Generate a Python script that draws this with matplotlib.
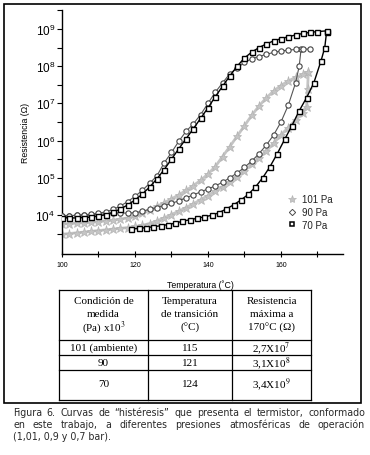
import matplotlib
matplotlib.use("Agg")
import matplotlib.pyplot as plt
import numpy as np
from matplotlib.lines import Line2D
from matplotlib.patches import Rectangle
from matplotlib.ticker import FixedLocator, FuncFormatter, NullFormatter

W, H = 370, 456

plt.rcParams["font.family"] = ["Liberation Sans", "DejaVu Sans"]
plt.rcParams["mathtext.fontset"] = "custom"
plt.rcParams["mathtext.rm"] = "Liberation Sans"
plt.rcParams["mathtext.it"] = "Liberation Sans:italic"

# --- curve readings: temperature (C) and log10 of resistance (ohm) ---
T_101_HEAT = [100, 102, 104, 106, 108, 110, 112, 114, 116, 118, 120, 122, 124, 126, 128,
              130, 132, 134, 136, 138, 140, 142, 144, 146, 148, 150, 152, 154, 156, 158,
              160, 162, 164, 166, 167, 167.3, 167.5]
LOGR_101_HEAT = [3.48, 3.50, 3.52, 3.54, 3.56, 3.58, 3.60, 3.62, 3.64, 3.66, 3.69, 3.72, 3.77,
                 3.84, 3.92, 4.01, 4.10, 4.20, 4.30, 4.41, 4.52, 4.64, 4.76, 4.89, 5.03, 5.19,
                 5.36, 5.54, 5.72, 5.93, 6.15, 6.35, 6.55, 6.75, 6.90, 7.40, 7.85]
T_101_COOL = [167.5, 166, 164, 162, 160, 158, 156, 154, 152, 150, 148, 146, 144, 142, 140,
              138, 136, 134, 132, 130, 128, 126, 124, 122, 120, 118, 116, 114, 112, 110,
              108, 106, 104, 102, 100]
LOGR_101_COOL = [7.85, 7.78, 7.70, 7.60, 7.48, 7.33, 7.15, 6.93, 6.68, 6.40, 6.12, 5.84, 5.57,
                 5.30, 5.10, 4.93, 4.79, 4.66, 4.54, 4.43, 4.33, 4.23, 4.13, 4.04, 3.96, 3.92,
                 3.89, 3.86, 3.84, 3.82, 3.80, 3.79, 3.78, 3.77, 3.76]

T_90_HEAT = [100, 102, 104, 106, 108, 110, 112, 114, 116, 118, 120, 122, 124, 126, 128, 130,
             132, 134, 136, 138, 140, 142, 144, 146, 148, 150, 152, 154, 156, 158, 160, 162,
             164, 165, 165.5]
LOGR_90_HEAT = [3.97, 3.98, 3.99, 4.00, 4.01, 4.02, 4.03, 4.04, 4.05, 4.05, 4.06, 4.10, 4.15,
                4.20, 4.25, 4.31, 4.38, 4.46, 4.54, 4.62, 4.70, 4.78, 4.88, 5.00, 5.13, 5.28,
                5.45, 5.65, 5.88, 6.15, 6.50, 6.95, 7.55, 8.00, 8.45]
T_90_COOL = [168, 166, 164, 162, 160, 158, 156, 154, 152, 150, 148, 146, 144, 142, 140, 138,
             136, 134, 132, 130, 128, 126, 124, 122, 120, 118, 116, 114, 112, 110, 108, 106,
             104, 102, 100]
LOGR_90_COOL = [8.46, 8.46, 8.45, 8.43, 8.41, 8.37, 8.32, 8.26, 8.20, 8.10, 7.95, 7.80, 7.55,
                7.30, 7.00, 6.70, 6.45, 6.25, 5.98, 5.68, 5.40, 5.05, 4.85, 4.66, 4.50, 4.36,
                4.24, 4.15, 4.08, 4.05, 4.02, 4.00, 3.99, 3.98, 3.98]

T_70_HEAT = [119, 121, 123, 125, 127, 129, 131, 133, 135, 137, 139, 141, 143, 145, 147, 149,
             151, 153, 155, 157, 159, 161, 163, 165, 167, 169, 171, 172, 172.5]
LOGR_70_HEAT = [3.62, 3.64, 3.66, 3.68, 3.71, 3.74, 3.78, 3.83, 3.87, 3.91, 3.95, 3.99, 4.06,
                4.16, 4.27, 4.40, 4.55, 4.75, 5.00, 5.30, 5.65, 6.03, 6.40, 6.80, 7.15, 7.55,
                8.15, 8.50, 8.92]
T_70_COOL = [172.5, 170, 168, 166, 164, 162, 160, 158, 156, 154, 152, 150, 148, 146, 144, 142,
             140, 138, 136, 134, 132, 130, 128, 126, 124, 122, 120, 118, 116, 114, 112, 110,
             108, 106, 104, 102, 100]
LOGR_70_COOL = [8.95, 8.93, 8.91, 8.88, 8.84, 8.79, 8.74, 8.68, 8.60, 8.50, 8.38, 8.22, 8.00,
                7.74, 7.46, 7.18, 6.88, 6.60, 6.32, 6.05, 5.78, 5.50, 5.22, 4.97, 4.75, 4.56,
                4.40, 4.27, 4.16, 4.07, 4.01, 3.97, 3.94, 3.93, 3.92, 3.92, 3.93]

LEGEND_LABELS = ["101 Pa", "90 Pa", "70 Pa"]
X_MAJOR = [100, 120, 140, 160]
X_MINOR = [110, 130, 150, 170]
Y_DECADES = [4, 5, 6, 7, 8, 9]

# --- table ---
TABLE_HEADER = [
    ["Condición de", "medida", "(Pa) x10$^{3}$"],
    ["Temperatura", "de transición", "(°C)"],
    ["Resistencia", "máxima a", "170°C (Ω)"],
]
TABLE_CONDITION = ["101 (ambiente)", "90", "70"]
TABLE_TRANSITION = ["115", "121", "124"]
TABLE_MAX_R = ["2,7X10$^{7}$", "3,1X10$^{8}$", "3,4X10$^{9}$"]

CAPTION = [
    "Figura 6.  Curvas de “histéresis” que presenta el termistor, conformado",
    "en este trabajo, a diferentes presiones atmosféricas de operación",
    "(1,01, 0,9 y 0,7 bar).",
]


def fx(px):
    return px / W


def fy(py):
    return 1 - py / H


def ohm(logr):
    return 10.0 ** np.asarray(logr)


fig = plt.figure(figsize=(W / 100, H / 100), dpi=100)
fig.patch.set_facecolor("white")

ax_left, ax_right, ax_top, ax_bottom = 62, 343, 11.4, 255
ax = fig.add_axes([fx(ax_left), fy(ax_bottom), (ax_right - ax_left) / W, (ax_bottom - ax_top) / H])

style_101 = dict(marker="*", color="#c4c4c4", ms=6.5, mec="#b4b4b4", mfc="#c4c4c4", mew=0.5, lw=2.0)
style_90 = dict(marker="o", color="#555555", ms=3.8, mec="#444444", mfc="white", mew=0.8, lw=0.8)
style_70 = dict(marker="s", color="black", ms=3.6, mec="black", mfc="white", mew=1.0, lw=1.0)

ax.plot(T_101_HEAT, ohm(LOGR_101_HEAT), **style_101, zorder=2)
ax.plot(T_101_COOL, ohm(LOGR_101_COOL), **style_101, zorder=2)
ax.plot(T_90_HEAT, ohm(LOGR_90_HEAT), **style_90, zorder=3)
ax.plot(T_90_COOL, ohm(LOGR_90_COOL), **style_90, zorder=3)
ax.plot(T_70_HEAT, ohm(LOGR_70_HEAT), **style_70, zorder=4)
ax.plot(T_70_COOL, ohm(LOGR_70_COOL), **style_70, zorder=4)

ax.set_yscale("log")
ax.set_xlim(100, 177)
ax.set_ylim(10 ** 2.95, 10 ** 9.5)

for side in ("top", "right"):
    ax.spines[side].set_visible(False)
for side in ("left", "bottom"):
    ax.spines[side].set_linewidth(1.0)

ax.xaxis.set_major_locator(FixedLocator(X_MAJOR))
ax.xaxis.set_minor_locator(FixedLocator(X_MINOR))
ax.xaxis.set_minor_formatter(NullFormatter())
ax.tick_params(axis="x", which="both", direction="inout", length=4, width=0.8,
               labelsize=5, pad=3)

ax.yaxis.set_major_locator(FixedLocator([10.0 ** d for d in Y_DECADES]))
half = [10.0 ** (d + 0.5) for d in range(2, 10)]
ax.yaxis.set_minor_locator(FixedLocator(half))
ax.yaxis.set_minor_formatter(NullFormatter())
ax.yaxis.set_major_formatter(FuncFormatter(lambda v, _: r"$\mathregular{10^{%d}}$" % round(np.log10(v))))
ax.tick_params(axis="y", which="both", direction="out", length=3.5, width=0.8,
               labelsize=8.5, pad=1.5)

ax.set_xlabel("Temperatura (˚C)", fontsize=6.3)
ax.xaxis.set_label_coords((200 - ax_left) / (ax_right - ax_left), (ax_bottom - 280) / (ax_bottom - ax_top))
ax.set_ylabel("Resistencia (Ω)", fontsize=6.3)
ax.yaxis.set_label_coords((30 - ax_left) / (ax_right - ax_left), (ax_bottom - 133) / (ax_bottom - ax_top))

handles = [
    Line2D([], [], linestyle="none", marker="*", ms=6, mec="#b4b4b4", mfc="#c4c4c4", mew=0.5),
    Line2D([], [], linestyle="none", marker="D", ms=3.2, mec="#4a4a4a", mfc="white", mew=0.7),
    Line2D([], [], linestyle="none", marker="s", ms=3.4, mec="black", mfc="white", mew=1.1),
]
ax.legend(handles, LEGEND_LABELS, loc="upper left", bbox_to_anchor=(fx(287), fy(195)),
          bbox_transform=fig.transFigure, frameon=False, fontsize=7, handlelength=1.0,
          handletextpad=0.5, labelspacing=0.3, borderpad=0, borderaxespad=0,
          labelcolor="#222222")

# outer frame around figure + table
fig.patches.append(Rectangle((fx(4), fy(404)), (361 - 4) / W, (404 - 5) / H, fill=False,
                             lw=1.2, ec="black", transform=fig.transFigure))

# table grid
col_px = [59, 148, 232, 311]
row_px = [291, 341, 356, 371, 401]
for c in col_px:
    fig.add_artist(Line2D([fx(c), fx(c)], [fy(row_px[0]), fy(row_px[-1])], lw=0.9, color="black",
                          transform=fig.transFigure))
for r in row_px:
    fig.add_artist(Line2D([fx(col_px[0]), fx(col_px[-1])], [fy(r), fy(r)], lw=0.9, color="black",
                          transform=fig.transFigure))

tkw = dict(family="Liberation Serif", fontsize=8, ha="center", va="center", math_fontfamily="stix")
header_y = [302, 315, 328]
for ci, lines in enumerate(TABLE_HEADER):
    xc = (col_px[ci] + col_px[ci + 1]) / 2
    for line, yy in zip(lines, header_y):
        fig.text(fx(xc), fy(yy), line, **tkw)

body_y = [348.5, 363.5, 385]
for ri, yy in enumerate(body_y):
    for ci, vals in enumerate([TABLE_CONDITION, TABLE_TRANSITION, TABLE_MAX_R]):
        xc = (col_px[ci] + col_px[ci + 1]) / 2
        fig.text(fx(xc), fy(yy), vals[ri], **tkw)

# justified caption; font size chosen so the first line fills the width naturally
renderer = fig.canvas.get_renderer()
cap_x0, cap_x1 = 13, 365
probe = fig.text(0, 0, CAPTION[0], family="DejaVu Sans", fontsize=6.0)
cap_size = 6.0 * (cap_x1 - cap_x0) / probe.get_window_extent(renderer).width * 0.98
probe.remove()
ckw = dict(family="DejaVu Sans", fontsize=cap_size, color="#2a2a2a", va="center", ha="left")
cap_y = [413, 425, 437]
for i, (line, yy) in enumerate(zip(CAPTION, cap_y)):
    if i == len(CAPTION) - 1:
        fig.text(fx(cap_x0), fy(yy), line, **ckw)
        continue
    words = line.split()
    texts = [fig.text(0, fy(yy), w, **ckw) for w in words]
    widths = [t.get_window_extent(renderer).width for t in texts]
    gap = ((cap_x1 - cap_x0) - sum(widths)) / (len(words) - 1)
    x = cap_x0
    for t, w in zip(texts, widths):
        t.set_x(fx(x))
        x += w + gap

fig.savefig("out.png", dpi=100)
